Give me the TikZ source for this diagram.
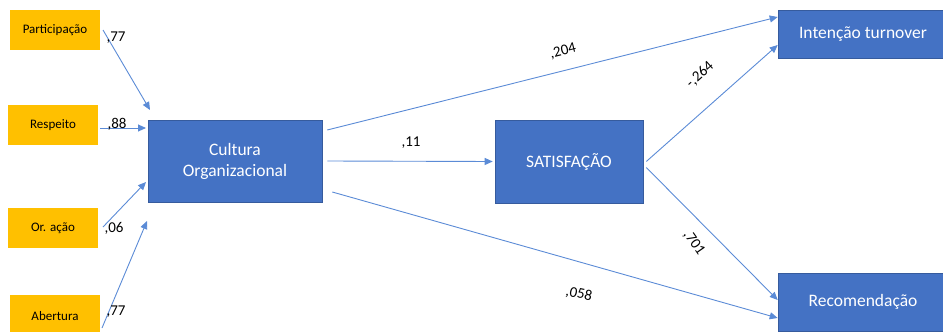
\documentclass[tikz,border=0pt]{standalone}
\usepackage{fontspec}
\setmainfont{Carlito}
\usetikzlibrary{arrows.meta}
\definecolor{ylw}{HTML}{FFC000}
\definecolor{blu}{HTML}{4472C4}
\definecolor{arr}{HTML}{5B8BD6}
\begin{document}
\begin{tikzpicture}[x=1pt,y=-1pt,
  ybox/.style={fill=ylw,draw=none,minimum width=90pt,minimum height=40pt,inner sep=0pt,font=\fontsize{13}{15}\selectfont,text=black},
  bbox/.style={fill=blu,draw=blu!80!black,line width=0.6pt,inner sep=0pt,font=\fontsize{17.5}{21}\selectfont,text=white,align=center},
  conn/.style={draw=arr,line width=0.9pt,-{Triangle[length=8pt,width=7pt]}},
  lbl/.style={font=\fontsize{15}{17}\selectfont,text=black,inner sep=0pt}]
\useasboundingbox (0,0) rectangle (943,332);
\node[ybox] (p) at (55,30) {Participação};
\node[ybox] (r) at (53,125) {Respeito};
\node[ybox] (o) at (53,228) {Or. ação};
\node[ybox,minimum height=42pt] (a) at (55,316) {Abertura};
\node[bbox,minimum width=174pt,minimum height=82pt] (c) at (235,161) {Cultura\\Organizacional};
\node[bbox,minimum width=148pt,minimum height=83pt] (s) at (569,161.5) {SATISFAÇÃO};
\node[bbox,minimum width=170pt,minimum height=48pt] (i) at (863,34) {Intenção turnover};
\node[bbox,minimum width=170pt,minimum height=58pt] (rc) at (863,302) {Recomendação};
\coordinate (p1) at (103,30);
\coordinate (r1) at (100,128);
\coordinate (o1) at (103,227);
\coordinate (a1) at (102,328);
\coordinate (p2) at (150,110);
\coordinate (r2) at (146,128);
\coordinate (o2) at (146,182);
\coordinate (a2) at (147,221);
\draw[conn] (p1) -- (p2);
\draw[conn] (r1) -- (r2);
\draw[conn] (o1) -- (o2);
\draw[conn] (a1) -- (a2);
\node[lbl] (l1) at (116,38) {,77};
\node[lbl] (l2) at (117,124) {,88};
\node[lbl] (l3) at (114,228) {,06};
\node[lbl] (l4) at (116,312) {,77};
\draw[conn] ([xshift=5pt,yshift=31pt]c.east) -- ([yshift=17pt]i.west);
\draw[conn] ([xshift=5pt]c.east) -- ([xshift=-2pt]s.west);
\draw[conn] ([xshift=10pt,yshift=-31pt]c.east) -- ([yshift=-16pt]rc.west);
\draw[conn] ([xshift=3pt]s.east) -- ([yshift=-11pt]i.west);
\draw[conn] ([xshift=3pt,yshift=-6pt]s.east) -- ([yshift=2pt]rc.west);
\node[lbl,rotate=14] (l5) at (563,51) {,204};
\node[lbl] (l6) at (411,143) {,11};
\node[lbl,rotate=-12] (l7) at (579,294) {,058};
\node[lbl,rotate=42] (l8) at (700,75) {-,264};
\node[lbl,rotate=-55] (l9) at (694,243) {,701};
\end{tikzpicture}
\end{document}
